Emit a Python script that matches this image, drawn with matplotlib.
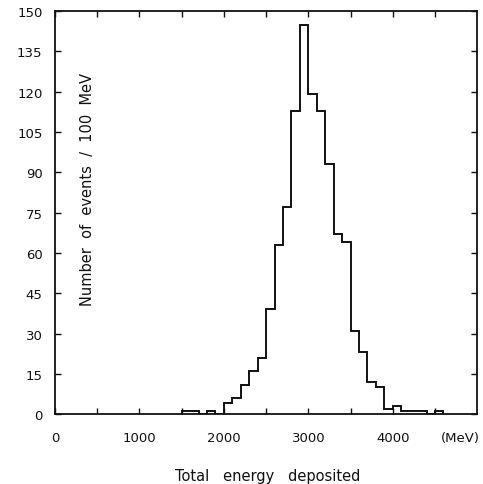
import matplotlib
matplotlib.use("Agg")
import matplotlib.pyplot as plt
import numpy as np

# bin edges (MeV) and counts per 100 MeV bin
bin_edges = [1500, 1600, 1700, 1800, 1900, 2000, 2100, 2200, 2300, 2400,
             2500, 2600, 2700, 2800, 2900, 3000, 3100, 3200, 3300, 3400,
             3500, 3600, 3700, 3800, 3900, 4000, 4100, 4200, 4300, 4400,
             4500, 4600]
counts = [1, 1, 0, 1, 0, 4, 6, 11, 16, 21,
          39, 63, 77, 113, 145, 119, 113, 93, 67, 64,
          31, 23, 12, 10, 2, 3, 1, 1, 1, 0,
          1]

x_ticks = [0, 1000, 2000, 3000, 4000]
y_ticks = [0, 15, 30, 45, 60, 75, 90, 105, 120, 135, 150]

plt.rcParams['font.family'] = ['DejaVu Sans']
INK = "#111111"

fig = plt.figure(figsize=(4.83, 4.85), dpi=100, facecolor="white")
ax = fig.add_axes([0.114, 0.144, 0.874, 0.831])

ax.stairs(counts, bin_edges, baseline=0, color=INK, linewidth=1.4)

ax.set_xlim(0, 5000)
ax.set_ylim(0, 150)

ax.set_xticks(x_ticks)
ax.set_xticks(np.arange(500, 5000, 1000), minor=True)
ax.set_yticks(y_ticks)
ax.tick_params(which="both", direction="in", top=True, right=True,
               length=4, width=1.0, colors=INK, labelsize=9.5)
ax.tick_params(axis="x", pad=12)
ax.tick_params(axis="y", pad=9)
for s in ax.spines.values():
    s.set_linewidth(1.3)
    s.set_color(INK)

ax.text(4800, -8.6, "(MeV)", ha="center", va="center", fontsize=9.5, color=INK)
fig.text(0.555, 0.017, "Total   energy   deposited", ha="center", va="center",
         fontsize=10.5, color=INK)
ax.text(0.076, 0.56, "Number  of  events  /  100  MeV", rotation=90,
        transform=ax.transAxes, ha="center", va="center",
        fontsize=10.5, color=INK)

fig.savefig("out.png", dpi=100, facecolor="white")
